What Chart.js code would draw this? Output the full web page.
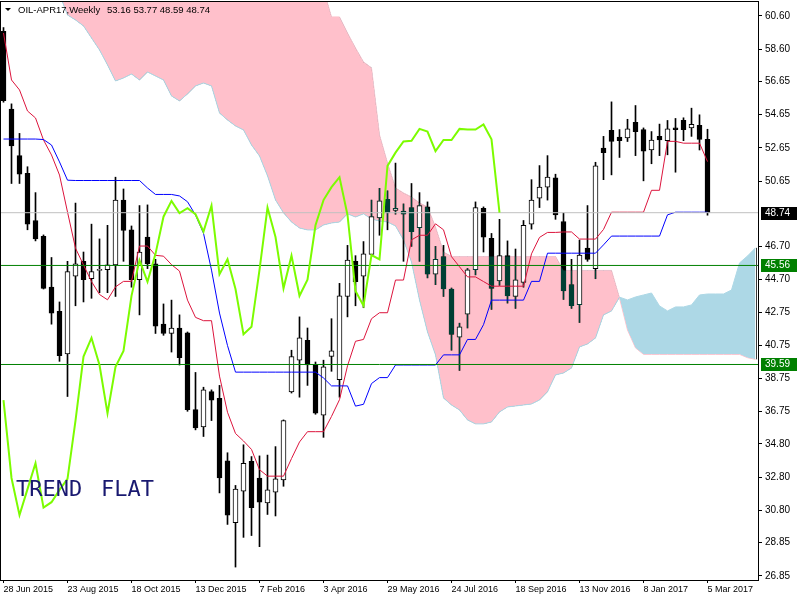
<!DOCTYPE html>
<html lang="en">
<head>
<meta charset="UTF-8">
<title>OIL-APR17, Weekly - Ichimoku</title>
<script src="https://cdn.jsdelivr.net/npm/chart.js"></script>
<style>
  html, body { margin: 0; padding: 0; background: #fff; }
  #wrap { width: 800px; height: 600px; }
</style>
</head>
<body>
<div id="wrap"><canvas id="oilChart" width="800" height="600"></canvas></div>
<script>
// weekly bars, bar 0 = 28 Jun 2015, bar 88 = 5 Mar 2017
const tickBars = [0, 8, 16, 24, 32, 40, 48, 56, 64, 72, 80, 88];
const tickLabels = ['28 Jun 2015', '23 Aug 2015', '18 Oct 2015', '13 Dec 2015', '7 Feb 2016', '3 Apr 2016',
  '29 May 2016', '24 Jul 2016', '18 Sep 2016', '13 Nov 2016', '8 Jan 2017', '5 Mar 2017'];
const yTicks = [26.85, 28.85, 30.80, 32.80, 34.80, 36.75, 38.75, 40.75, 42.75, 44.70, 46.70,
  50.65, 52.65, 54.65, 56.65, 58.60, 60.60];

const opens = [59.67, 54.99, 52.18, 51.11, 48.27, 47.31, 44.25, 42.80, 40.23, 44.92,
  45.81, 44.76, 45.26, 45.30, 45.59, 49.50, 47.71, 44.70, 47.27, 45.66,
  42.02, 41.46, 41.79, 41.50, 36.87, 35.83, 37.95, 37.55, 33.79, 30.06,
  31.96, 33.75, 32.75, 31.24, 31.90, 32.63, 37.93, 39.85, 41.05, 39.56,
  36.54, 40.07, 38.67, 43.69, 45.81, 44.92, 46.22, 48.43, 49.55, 48.88,
  48.83, 49.05, 47.83, 49.10, 45.03, 46.10, 44.14, 41.23, 42.62, 45.30,
  49.01, 47.20, 44.63, 46.15, 43.69, 44.54, 48.05, 49.61, 50.28, 50.84,
  48.21, 44.40, 43.20, 46.60, 45.37, 52.63, 53.70, 53.30, 53.25, 54.19,
  53.75, 52.52, 53.34, 53.08, 53.85, 54.30, 53.85, 54.01, 53.16];
const highs = [59.90, 55.30, 53.52, 51.51, 49.95, 47.40, 46.04, 43.36, 45.81, 49.32,
  46.37, 48.05, 47.16, 47.98, 50.88, 50.17, 47.94, 49.17, 49.21, 45.93,
  43.24, 43.47, 42.58, 41.55, 39.11, 38.22, 38.06, 38.33, 34.27, 32.30,
  34.75, 34.04, 34.08, 34.13, 34.64, 36.25, 40.45, 42.46, 41.79, 39.74,
  39.85, 42.35, 44.48, 46.77, 46.15, 47.00, 49.50, 50.21, 50.06, 51.73,
  49.27, 50.50, 49.95, 49.39, 46.71, 46.77, 44.20, 42.08, 45.38, 49.39,
  49.09, 47.49, 48.34, 47.04, 46.55, 48.27, 50.73, 51.58, 52.18, 51.06,
  48.72, 45.93, 47.09, 49.17, 51.78, 53.34, 55.42, 53.75, 54.37, 55.20,
  53.85, 53.63, 54.08, 54.30, 54.42, 54.46, 55.04, 54.64, 53.77];
const lows = [55.40, 50.50, 50.50, 47.71, 47.04, 44.14, 42.02, 39.78, 37.66, 43.13,
  43.36, 43.58, 43.92, 43.92, 43.69, 45.81, 44.25, 42.58, 45.37, 41.46,
  41.35, 40.34, 39.56, 36.77, 35.65, 35.25, 36.21, 31.85, 29.95, 27.38,
  29.17, 29.28, 28.61, 30.55, 30.46, 32.25, 37.87, 37.62, 38.33, 36.59,
  35.20, 39.18, 37.62, 42.46, 43.13, 43.02, 46.19, 47.38, 47.71, 48.65,
  45.81, 46.71, 45.81, 44.81, 44.40, 43.69, 40.45, 39.23, 41.79, 44.99,
  46.37, 42.91, 44.36, 43.29, 42.97, 44.25, 47.75, 49.05, 49.50, 48.34,
  43.51, 42.97, 42.12, 45.81, 44.76, 50.73, 51.02, 52.07, 53.03, 52.18,
  50.66, 51.69, 52.18, 52.23, 51.18, 53.08, 53.34, 52.52, 48.59];
const closes = [55.50, 52.76, 51.06, 48.05, 47.16, 44.18, 42.69, 40.12, 45.19, 45.66,
  44.70, 45.19, 45.32, 45.59, 49.50, 47.67, 44.70, 46.37, 45.66, 41.90,
  41.46, 41.79, 40.00, 36.87, 35.76, 38.06, 37.44, 32.75, 30.51, 32.08,
  33.64, 30.96, 31.29, 32.03, 32.70, 36.21, 40.07, 41.19, 39.56, 36.65,
  39.45, 40.41, 43.73, 45.88, 44.58, 46.26, 48.50, 49.45, 48.72, 49.01,
  48.65, 47.60, 49.17, 45.03, 45.93, 44.14, 41.41, 41.86, 45.30, 49.05,
  47.27, 44.18, 46.15, 43.73, 44.70, 47.98, 49.50, 50.28, 50.88, 48.60,
  44.02, 43.13, 46.19, 45.93, 51.56, 52.36, 53.03, 53.08, 53.79, 53.63,
  52.45, 53.12, 53.12, 53.79, 53.75, 53.75, 54.06, 53.16, 48.74];

// Tenkan-sen (red) and Kijun-sen (blue), one value per bar
const tenkan = [59.57, 56.74, 56.14, 54.87, 54.45, 53.12, 52.22, 51.01, 48.78, 46.60,
  45.59, 44.59, 43.81, 43.49, 44.27, 44.60, 44.60, 46.73, 46.73, 46.17,
  46.12, 45.61, 45.22, 43.47, 42.43, 42.23, 42.23, 38.89, 36.71, 35.43,
  34.98, 34.47, 33.25, 32.86, 32.86, 32.86, 33.92, 34.92, 35.54, 35.54,
  35.54, 36.46, 37.47, 39.51, 40.99, 41.10, 42.35, 42.71, 42.71, 44.68,
  44.68, 47.10, 47.38, 47.38, 48.07, 47.71, 46.09, 45.48, 44.87, 44.87,
  44.59, 44.31, 44.31, 44.31, 44.31, 44.31, 46.26, 47.25, 47.55, 47.55,
  47.58, 47.58, 47.15, 47.15, 47.15, 47.73, 48.77, 48.77, 48.77, 48.77,
  48.77, 50.09, 50.09, 53.04, 53.04, 52.93, 52.93, 52.93, 51.82];
const kijun = [53.18, 53.18, 53.18, 53.18, 53.18, 53.15, 52.82, 51.80, 50.70, 50.68,
  50.68, 50.68, 50.68, 50.68, 50.68, 50.68, 50.68, 50.68, 50.23, 49.84,
  49.84, 49.84, 49.75, 49.40, 48.60, 47.50, 45.28, 42.69, 40.73, 39.13,
  39.13, 39.13, 39.13, 39.13, 39.13, 39.13, 39.13, 39.13, 39.13, 39.13,
  38.78, 38.30, 38.30, 38.30, 37.08, 37.19, 38.44, 38.80, 38.80, 39.56,
  39.56, 39.56, 39.56, 39.56, 39.56, 40.17, 40.17, 40.17, 41.10, 41.10,
  41.99, 43.47, 43.47, 43.47, 43.47, 43.47, 44.60, 44.60, 46.30, 46.30,
  46.30, 46.30, 46.30, 46.30, 46.30, 46.80, 47.33, 47.33, 47.33, 47.33,
  47.33, 47.33, 47.33, 48.61, 48.77, 48.77, 48.77, 48.77, 48.77];
// Chikou span (lime), plotted from bar 0 to bar 62
const chikou = [37.44, 32.75, 30.51, 32.08, 33.64, 30.96, 31.29, 32.03, 32.70, 36.21,
  40.07, 41.19, 39.56, 36.65, 39.45, 40.41, 43.73, 45.88, 44.58, 46.26,
  48.50, 49.45, 48.72, 49.01, 48.65, 47.60, 49.17, 45.03, 45.93, 44.14,
  41.41, 41.86, 45.30, 49.05, 47.27, 44.18, 46.15, 43.73, 44.70, 47.98,
  49.50, 50.28, 50.88, 48.60, 44.02, 43.13, 46.19, 45.93, 51.56, 52.36,
  53.03, 53.08, 53.79, 53.63, 52.45, 53.12, 53.12, 53.79, 53.75, 53.75,
  54.06, 53.16, 48.74];
// Senkou spans, bar 0 .. bar 94 (cloud runs 6 bars past the last candle)
const spanA = [64.80, 64.40, 64.00, 63.60, 63.20, 62.80, 62.40, 61.90, 60.66, 60.36,
  60.00, 59.27, 58.55, 57.65, 56.68, 56.86, 57.10, 56.74, 57.22, 56.98,
  56.74, 55.78, 55.48, 55.90, 56.38, 56.56, 56.38, 54.75, 54.33, 53.97,
  53.73, 52.82, 52.16, 50.96, 49.51, 48.73, 48.18, 47.82, 47.70, 47.70,
  48.00, 48.12, 48.18, 48.67, 48.48, 48.67, 48.36, 48.24, 48.18, 47.94,
  47.10, 45.77, 43.48, 41.55, 40.17, 37.57, 37.15, 36.85, 36.25, 36.01,
  36.01, 36.13, 36.73, 37.03, 37.09, 37.15, 37.21, 37.45, 37.94, 38.96,
  39.08, 39.38, 40.65, 40.83, 41.19, 42.58, 42.82, 43.65, 43.48, 43.66,
  43.78, 43.90, 43.12, 42.82, 43.06, 43.06, 43.18, 43.78, 43.84, 43.84,
  43.84, 44.08, 45.71, 46.13, 46.62];
const spanB = [62.50, 62.50, 62.50, 62.50, 62.50, 62.50, 62.50, 62.50, 62.50, 62.50,
  62.50, 62.50, 62.50, 62.50, 62.50, 62.50, 62.50, 62.50, 62.50, 62.50,
  62.50, 62.50, 62.50, 62.50, 62.50, 62.50, 62.50, 62.50, 62.50, 62.50,
  62.50, 62.50, 62.50, 62.50, 62.50, 62.50, 62.50, 62.50, 62.50, 62.50,
  62.20, 60.54, 60.54, 59.57, 58.67, 57.83, 57.47, 53.43, 51.74, 50.23,
  49.93, 49.69, 49.33, 49.09, 47.88, 46.37, 46.10, 46.10, 46.10, 46.10,
  46.10, 46.10, 46.10, 46.10, 46.10, 46.10, 46.10, 46.10, 46.10, 46.10,
  45.26, 45.26, 45.26, 45.26, 45.26, 45.26, 45.26, 43.60, 41.67, 40.59,
  40.20, 40.20, 40.20, 40.20, 40.20, 40.20, 40.20, 40.20, 40.20, 40.20,
  40.20, 40.20, 40.20, 40.00, 39.90];
const lastPinkBar = 77; // spans cross here

const levels = [48.74, 45.56, 39.59];
const levelColors = ['#C0C0C0', '#008000', '#008000'];
const levelLabelBg = ['#000000', '#008000', '#008000'];

const xMin = -0.3125, xMax = 94.3125;
const pts = arr => arr.map((v, i) => ({ x: i, y: v }));
const lineStyle = { type: 'line', pointRadius: 0, borderWidth: 1, fill: false, tension: 0 };

// candles lying inside the pink cloud show up dark teal, like on the terminal
const cloudTint = {
  id: 'cloudTint',
  afterDatasetDraw(chart, args) {
    if (args.index !== 3) return;
    const { ctx, chartArea: a, scales: { x, y } } = chart;
    ctx.save();
    ctx.beginPath();
    ctx.rect(a.left, a.top, a.right - a.left, a.bottom - a.top);
    ctx.clip();
    ctx.beginPath();
    for (let i = 0; i <= lastPinkBar; i++) {
      const px = x.getPixelForValue(i), py = y.getPixelForValue(spanB[i]);
      if (i === 0) ctx.moveTo(px, py); else ctx.lineTo(px, py);
    }
    for (let i = lastPinkBar; i >= 0; i--) ctx.lineTo(x.getPixelForValue(i), y.getPixelForValue(spanA[i]));
    ctx.closePath();
    ctx.globalCompositeOperation = 'lighten';
    ctx.fillStyle = '#003F34';
    ctx.fill();
    ctx.restore();
  }
};

const decor = {
  id: 'decor',
  afterDraw(chart) {
    const { ctx, chartArea: a, scales: { x, y } } = chart;
    ctx.save();
    // dark edge where the drawn cloud stops
    const last = spanA.length - 1;
    const cx = Math.round(x.getPixelForValue(last)) + 0.5;
    ctx.strokeStyle = '#3a3a3a';
    ctx.beginPath();
    ctx.moveTo(cx, y.getPixelForValue(spanA[last]));
    ctx.lineTo(cx, y.getPixelForValue(spanB[last]));
    ctx.stroke();
    // frame
    ctx.strokeStyle = '#000';
    ctx.strokeRect(a.left - 0.5, a.top - 0.5, a.right - a.left + 1, a.bottom - a.top + 1);
    // price labels of the horizontal lines
    ctx.font = '10px "Liberation Sans"';
    ctx.textBaseline = 'middle';
    levels.forEach((v, k) => {
      const py = Math.round(y.getPixelForValue(v));
      ctx.fillStyle = levelLabelBg[k];
      ctx.fillRect(a.right + 3, py - 6, 36, 13);
      ctx.fillStyle = '#fff';
      ctx.fillText(v.toFixed(2), a.right + 7, py + 0.5);
    });
    // title
    ctx.fillStyle = '#000';
    ctx.beginPath();
    ctx.moveTo(5, 8); ctx.lineTo(11, 8); ctx.lineTo(8, 11); ctx.closePath();
    ctx.fill();
    ctx.font = '9.5px "Liberation Sans"';
    ctx.fillText('OIL-APR17,Weekly', 18, 10);
    ctx.fillText('53.16 53.77 48.59 48.74', 107, 10);
    // comment text
    ctx.fillStyle = '#191970';
    ctx.font = '22px "DejaVu Sans Mono"';
    ctx.textBaseline = 'alphabetic';
    ctx.fillText('TREND', 16, 496);
    ctx.fillText('FLAT', 101, 496);
    ctx.restore();
  }
};

const noPad = s => { s.paddingTop = 0; s.paddingBottom = 0; s.paddingLeft = 0; s.paddingRight = 0; };

new Chart(document.getElementById('oilChart'), {
  type: 'bar',
  data: {
    datasets: [
      { ...lineStyle, label: 'Senkou B', data: pts(spanB), borderColor: '#FFC0CB', order: 10 },
      { ...lineStyle, label: 'Senkou A', data: pts(spanA), borderColor: '#ADD8E6', order: 9,
        fill: { target: 0, above: '#ADD8E6', below: '#FFC0CB' } },
      { type: 'bar', label: 'wick', data: highs.map((h, i) => ({ x: i, y: [lows[i], h] })),
        backgroundColor: '#000', barThickness: 1, grouped: false, order: 7 },
      { type: 'bar', label: 'body', data: opens.map((o, i) => ({ x: i, y: [o, closes[i]] })),
        backgroundColor: opens.map((o, i) => closes[i] < o ? '#000' : '#fff'),
        borderColor: '#000', borderWidth: 1, borderSkipped: false, barThickness: 5,
        minBarLength: 1, grouped: false, order: 6 },
      { ...lineStyle, label: 'Tenkan', data: pts(tenkan), borderColor: '#DC143C', order: 5 },
      { ...lineStyle, label: 'Kijun', data: pts(kijun), borderColor: '#0000FF', order: 4 },
      ...levels.map((v, k) => ({ ...lineStyle, label: 'level ' + v,
        data: [{ x: xMin, y: v }, { x: xMax, y: v }], borderColor: levelColors[k], order: 3 })),
      { ...lineStyle, label: 'Chikou', data: pts(chikou), borderColor: '#7CFC00', borderWidth: 2, order: 1 }
    ]
  },
  options: {
    responsive: false,
    animation: false,
    devicePixelRatio: 1,
    layout: { padding: { left: 1, top: 2, right: 0, bottom: 0 } },
    plugins: { legend: { display: false }, tooltip: { enabled: false } },
    scales: {
      x: {
        type: 'linear', min: xMin, max: xMax, offset: false,
        afterBuildTicks: s => { s.ticks = tickBars.map(v => ({ value: v })); },
        afterFit: s => { s.height = 20; noPad(s); },
        grid: { drawOnChartArea: false, drawTicks: true, tickLength: 3, color: '#000', offset: false },
        border: { display: false },
        ticks: {
          autoSkip: false, maxRotation: 0, align: 'start', padding: 1, color: '#000',
          font: { family: 'Liberation Sans', size: 9 },
          callback: v => { const k = tickBars.indexOf(v); return k < 0 ? '' : tickLabels[k]; }
        }
      },
      y: {
        position: 'right', min: 26.60, max: 61.44,
        afterBuildTicks: s => { s.ticks = yTicks.map(v => ({ value: v })); },
        afterFit: s => { s.width = 42; noPad(s); },
        grid: { drawOnChartArea: false, drawTicks: true, tickLength: 4, color: '#000' },
        border: { display: false },
        ticks: {
          padding: 3, color: '#000', font: { family: 'Liberation Sans', size: 10 },
          callback: v => v.toFixed(2)
        }
      }
    }
  },
  plugins: [cloudTint, decor]
});
</script>
</body>
</html>
